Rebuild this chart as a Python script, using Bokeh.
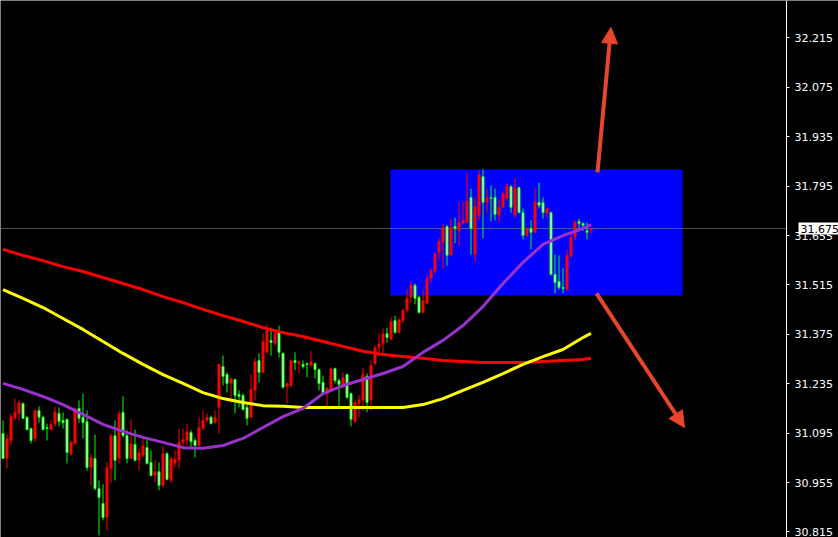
from bokeh.plotting import figure
from bokeh.models import (Range1d, FixedTicker, NumeralTickFormatter, BoxAnnotation, LinearAxis,
                          Arrow, NormalHead, Label, ColumnDataSource)
from bokeh.embed import file_html
from bokeh.resources import INLINE

# ---- price bars (bar index 0..147) ----
opens = [31.094, 31.023, 31.074, 31.137, 31.151, 31.179, 31.140, 31.108, 31.080, 31.159,
         31.140, 31.111, 31.105, 31.120, 31.151, 31.131, 31.134, 31.037, 31.066, 31.165,
         31.140, 31.128, 30.998, 31.023, 30.938, 30.896, 30.856, 30.995, 31.088, 31.023,
         31.154, 31.088, 31.023, 31.063, 31.018, 31.032, 31.054, 31.012, 30.975, 30.986,
         30.947, 31.037, 30.961, 31.009, 31.018, 31.069, 31.074, 31.097, 31.074, 31.060,
         31.108, 31.131, 31.140, 31.125, 31.168, 31.284, 31.261, 31.236, 31.247, 31.205,
         31.202, 31.168, 31.140, 31.216, 31.301, 31.267, 31.324, 31.358, 31.349, 31.380,
         31.321, 31.227, 31.230, 31.301, 31.292, 31.290, 31.292, 31.287, 31.292, 31.275,
         31.239, 31.207, 31.216, 31.278, 31.244, 31.225, 31.261, 31.207, 31.128, 31.179,
         31.188, 31.256, 31.188, 31.292, 31.338, 31.349, 31.377, 31.361, 31.414, 31.380,
         31.414, 31.443, 31.480, 31.514, 31.480, 31.437, 31.463, 31.533, 31.553, 31.607,
         31.635, 31.681, 31.599, 31.681, 31.669, 31.689, 31.692, 31.763, 31.601, 31.712,
         31.822, 31.749, 31.763, 31.763, 31.712, 31.735, 31.760, 31.794, 31.712, 31.791,
         31.720, 31.655, 31.675, 31.664, 31.749, 31.749, 31.718, 31.720, 31.545, 31.525,
         31.508, 31.502, 31.596, 31.650, 31.695, 31.689, 31.669, 31.669]

highs = [31.131, 31.091, 31.151, 31.193, 31.188, 31.182, 31.142, 31.111, 31.162, 31.171,
         31.145, 31.122, 31.131, 31.171, 31.168, 31.154, 31.137, 31.074, 31.168, 31.188,
         31.207, 31.159, 31.037, 31.091, 30.961, 30.950, 31.012, 31.094, 31.131, 31.159,
         31.199, 31.103, 31.134, 31.105, 31.052, 31.086, 31.077, 31.046, 31.018, 31.012,
         31.060, 31.040, 31.029, 31.046, 31.108, 31.108, 31.122, 31.103, 31.080, 31.140,
         31.159, 31.151, 31.145, 31.159, 31.292, 31.315, 31.267, 31.253, 31.250, 31.216,
         31.207, 31.182, 31.261, 31.309, 31.321, 31.377, 31.403, 31.394, 31.386, 31.400,
         31.324, 31.239, 31.304, 31.324, 31.301, 31.301, 31.295, 31.327, 31.295, 31.278,
         31.258, 31.225, 31.281, 31.281, 31.250, 31.267, 31.264, 31.210, 31.190, 31.202,
         31.281, 31.264, 31.301, 31.343, 31.377, 31.392, 31.394, 31.423, 31.428, 31.420,
         31.448, 31.502, 31.525, 31.519, 31.485, 31.499, 31.542, 31.562, 31.607, 31.647,
         31.686, 31.684, 31.703, 31.706, 31.751, 31.749, 31.834, 31.788, 31.763, 31.839,
         31.842, 31.788, 31.797, 31.788, 31.760, 31.777, 31.803, 31.797, 31.817, 31.794,
         31.732, 31.678, 31.698, 31.788, 31.805, 31.763, 31.735, 31.723, 31.601, 31.599,
         31.562, 31.613, 31.661, 31.698, 31.703, 31.692, 31.692, 31.678]

lows = [31.023, 30.995, 31.060, 31.131, 31.131, 31.137, 31.103, 31.066, 31.069, 31.125,
        31.103, 31.074, 31.103, 31.114, 31.114, 31.108, 31.009, 31.032, 31.063, 31.125,
        31.080, 30.989, 30.947, 30.933, 30.805, 30.848, 30.819, 30.955, 30.961, 31.009,
        31.083, 31.009, 31.021, 31.015, 30.989, 31.026, 31.006, 30.972, 30.955, 30.933,
        30.941, 30.961, 30.955, 30.998, 30.995, 31.054, 31.060, 31.054, 31.026, 31.057,
        31.103, 31.125, 31.120, 31.122, 31.094, 31.230, 31.210, 31.179, 31.151, 31.168,
        31.159, 31.117, 31.137, 31.188, 31.239, 31.264, 31.321, 31.315, 31.343, 31.309,
        31.222, 31.179, 31.225, 31.273, 31.264, 31.278, 31.253, 31.284, 31.250, 31.216,
        31.202, 31.165, 31.213, 31.236, 31.168, 31.222, 31.193, 31.114, 31.125, 31.140,
        31.159, 31.154, 31.159, 31.287, 31.324, 31.321, 31.352, 31.358, 31.377, 31.377,
        31.406, 31.437, 31.465, 31.460, 31.434, 31.434, 31.460, 31.522, 31.547, 31.587,
        31.562, 31.570, 31.596, 31.633, 31.624, 31.686, 31.689, 31.601, 31.579, 31.698,
        31.647, 31.720, 31.695, 31.698, 31.692, 31.732, 31.754, 31.720, 31.706, 31.718,
        31.644, 31.652, 31.616, 31.661, 31.732, 31.703, 31.706, 31.542, 31.491, 31.502,
        31.491, 31.499, 31.593, 31.641, 31.675, 31.669, 31.644, 31.658]

closes = [31.023, 31.080, 31.142, 31.154, 31.182, 31.137, 31.105, 31.074, 31.159, 31.140,
          31.105, 31.108, 31.120, 31.156, 31.128, 31.125, 31.040, 31.069, 31.165, 31.137,
          31.125, 30.998, 31.026, 30.938, 30.913, 30.856, 30.998, 31.088, 31.018, 31.151,
          31.088, 31.023, 31.066, 31.018, 31.040, 31.060, 31.009, 30.975, 30.986, 30.947,
          31.037, 30.964, 31.023, 31.021, 31.069, 31.077, 31.100, 31.071, 31.060, 31.111,
          31.131, 31.140, 31.122, 31.140, 31.290, 31.256, 31.236, 31.250, 31.202, 31.199,
          31.162, 31.137, 31.219, 31.298, 31.267, 31.355, 31.392, 31.352, 31.380, 31.324,
          31.225, 31.236, 31.301, 31.295, 31.298, 31.284, 31.290, 31.298, 31.275, 31.236,
          31.207, 31.222, 31.278, 31.244, 31.233, 31.253, 31.196, 31.134, 31.182, 31.190,
          31.261, 31.182, 31.287, 31.338, 31.349, 31.377, 31.366, 31.411, 31.380, 31.417,
          31.443, 31.477, 31.516, 31.477, 31.437, 31.471, 31.533, 31.556, 31.604, 31.638,
          31.678, 31.599, 31.678, 31.675, 31.692, 31.698, 31.754, 31.675, 31.737, 31.828,
          31.749, 31.763, 31.760, 31.715, 31.735, 31.774, 31.797, 31.735, 31.791, 31.720,
          31.655, 31.675, 31.664, 31.751, 31.740, 31.720, 31.732, 31.545, 31.522, 31.508,
          31.505, 31.599, 31.650, 31.695, 31.689, 31.684, 31.664, 31.675]

# ---- moving averages, sampled every 5 bars ----
ma_index = [0, 5, 10, 15, 20, 25, 30, 35, 40, 45, 50, 55, 60, 65, 70, 75, 80, 85, 90, 95,
            100, 105, 110, 115, 120, 125, 130, 135, 140, 145, 147]
ma_slow = [31.616, 31.599, 31.584, 31.567, 31.553, 31.536, 31.519, 31.502, 31.482, 31.465,
           31.446, 31.428, 31.412, 31.394, 31.380, 31.369, 31.355, 31.341, 31.327, 31.318,
           31.312, 31.307, 31.301, 31.298, 31.295, 31.295, 31.295, 31.298, 31.301, 31.304,
           31.307]
ma_mid = [31.502, 31.477, 31.451, 31.420, 31.389, 31.355, 31.321, 31.290, 31.261, 31.236,
          31.210, 31.193, 31.182, 31.173, 31.171, 31.168, 31.168, 31.168, 31.168, 31.168,
          31.168, 31.176, 31.193, 31.216, 31.239, 31.264, 31.290, 31.312, 31.332, 31.366,
          31.378]
ma_fast = [31.236, 31.219, 31.199, 31.176, 31.148, 31.120, 31.100, 31.083, 31.069, 31.054,
           31.052, 31.060, 31.080, 31.111, 31.142, 31.165, 31.207, 31.230, 31.247, 31.264,
           31.284, 31.324, 31.358, 31.400, 31.454, 31.519, 31.579, 31.630, 31.655, 31.675,
           31.686]

price_ticks = [30.815, 30.955, 31.095, 31.235, 31.375, 31.515, 31.655,
               31.795, 31.935, 32.075, 32.215]
last_price = 31.675

# consolidation zone and the two breakout scenarios (bar index, price)
zone_left, zone_right = 96.875, 169.875
zone_bottom, zone_top = 31.485, 31.842
arrow_up = (148.625, 31.834, 152.0, 32.245)
arrow_down = (148.375, 31.491, 170.375, 31.111)

# the price scale sits at this bar position, the chart area ends there
scale_at = 195.875
tag_at = 198.875

BULL = "#ff0000"
BEAR_EDGE = "#00ff00"
BEAR_FILL = "#ffffff"
ARROW = "#e8452c"
FONT = "DejaVu Sans"

bars = list(range(len(opens)))
rising = [c >= o for o, c in zip(opens, closes)]
src = ColumnDataSource(dict(
    x=bars, high=highs, low=lows,
    top=[max(o, c) for o, c in zip(opens, closes)],
    bottom=[min(o, c) for o, c in zip(opens, closes)],
    wick=[BULL if r else BEAR_EDGE for r in rising],
))
up_src = ColumnDataSource({k: [v for v, r in zip(src.data[k], rising) if r] for k in src.data})
dn_src = ColumnDataSource({k: [v for v, r in zip(src.data[k], rising) if not r] for k in src.data})

p = figure(width=838, height=537,
           x_range=Range1d(-0.625, 208.875), y_range=Range1d(30.7993, 32.3212),
           output_backend="svg", toolbar_location=None,
           x_axis_location=None, y_axis_location=None,
           min_border=0,
           background_fill_color="black", border_fill_color="black",
           outline_line_color=None)
p.grid.visible = False

# blue zone and current price line (line stops at the price scale)
p.add_layout(BoxAnnotation(left=zone_left, right=zone_right, bottom=zone_bottom, top=zone_top,
                           fill_color="#0000ff", fill_alpha=1.0, line_color=None,
                           level="underlay"))
p.add_layout(BoxAnnotation(left=-0.625, right=scale_at, bottom=last_price, top=last_price,
                           fill_alpha=0, line_color="#8a98ad", line_width=1,
                           level="underlay"))

# candles
p.segment(x0="x", y0="high", x1="x", y1="low", line_color="wick", line_width=1, source=src)
p.vbar(x="x", width=0.75, top="top", bottom="bottom", fill_color=BULL, line_color=None,
       source=up_src)
p.vbar(x="x", width=0.5, top="top", bottom="bottom", fill_color=BEAR_FILL,
       line_color=BEAR_EDGE, line_width=1, source=dn_src)

# moving averages
p.line(ma_index, ma_slow, line_color="#ff0000", line_width=3, line_join="round")
p.line(ma_index, ma_mid, line_color="#ffff00", line_width=3, line_join="round")
p.line(ma_index, ma_fast, line_color="#9932cc", line_width=3, line_join="round")

# scenario arrows
for xs, ys, xe, ye in (arrow_up, arrow_down):
    p.add_layout(Arrow(end=NormalHead(size=16, fill_color=ARROW, line_color=ARROW, line_width=1),
                       x_start=xs, y_start=ys, x_end=xe, y_end=ye,
                       line_color=ARROW, line_width=4))

# price scale
ax = LinearAxis(fixed_location=scale_at,
                ticker=FixedTicker(ticks=price_ticks),
                formatter=NumeralTickFormatter(format="0.000"))
ax.axis_line_color = "white"
ax.axis_line_width = 1
ax.major_tick_line_color = "white"
ax.major_tick_in = 0
ax.major_tick_out = 3
ax.minor_tick_line_color = None
ax.major_label_text_color = "white"
ax.major_label_text_font = FONT
ax.major_label_text_font_size = "11px"
ax.major_label_standoff = 5
p.add_layout(ax, "right")

# current price tag on the scale
p.add_layout(Label(x=tag_at, y=last_price, text="31.675", text_color="black",
                   text_font=FONT, text_font_size="11px", text_baseline="middle",
                   text_align="left", background_fill_color="white",
                   background_fill_alpha=1.0, padding=2))

open("out.html", "w").write(file_html(p, INLINE))
